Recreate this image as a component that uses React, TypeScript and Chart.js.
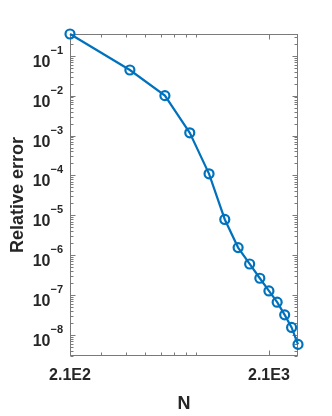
import React, { useEffect, useRef } from "react";
import { Chart, registerables } from "chart.js";

Chart.register(...registerables);

// ---- data ----
const sizesN = [210, 420, 630, 840, 1050, 1260, 1470, 1680, 1890, 2100, 2310, 2520, 2730, 2940];
const relativeError = [
  0.35, 0.0439, 0.01, 0.00117, 1.1e-4, 7.9e-6, 1.56e-6, 6.06e-7, 2.66e-7, 1.28e-7, 6.68e-8, 3.22e-8,
  1.56e-8, 5.86e-9,
];
const xTickValues = [210, 2100];
const xTickLabels = ["2.1E2", "2.1E3"];
const xMinorTickValues = [300, 400, 500, 600, 700, 800, 900];
const yTickValues = [1e-1, 1e-2, 1e-3, 1e-4, 1e-5, 1e-6, 1e-7, 1e-8];
const yTickBase = "10";
const yTickExponents = ["−1", "−2", "−3", "−4", "−5", "−6", "−7", "−8"];
const xRange = [210, 2940];
const yRange = [3e-9, 0.35];

const FONT = "'Liberation Sans', Arial, Helvetica, sans-serif";
const AXIS_COLOR = "#7a7a7a";
const TEXT_COLOR = "#262626";
const LINE_COLOR = "#0072BD";

const boxPlugin = {
  id: "matlabBox",
  beforeDatasetsDraw(chart: any) {
    const { ctx, chartArea: a, scales } = chart;
    const line = (x1: number, y1: number, x2: number, y2: number) => {
      ctx.beginPath();
      ctx.moveTo(x1, y1);
      ctx.lineTo(x2, y2);
      ctx.stroke();
    };
    ctx.save();
    ctx.strokeStyle = AXIS_COLOR;
    ctx.lineWidth = 1;
    const L = Math.round(a.left) + 0.5;
    const R = Math.round(a.right) - 0.5;
    const T = Math.round(a.top) + 0.5;
    const B = Math.round(a.bottom) - 0.5;
    ctx.strokeRect(L, T, R - L, B - T);
    const ys = scales.y;
    for (let d = -10; d <= 0; d++) {
      for (let m = 1; m <= 9; m++) {
        const v = m * Math.pow(10, d);
        if (v < ys.min || v > ys.max) continue;
        const p = Math.round(ys.getPixelForValue(v)) + 0.5;
        const len = m === 1 ? 5 : 3;
        line(L, p, L + len, p);
        line(R, p, R - len, p);
      }
    }
    const xs = scales.x;
    const drawX = (v: number, len: number) => {
      const p = Math.round(xs.getPixelForValue(v)) + 0.5;
      line(p, B, p, B - len);
      line(p, T, p, T + len);
    };
    xTickValues.forEach((v) => drawX(v, 5));
    xMinorTickValues.forEach((v) => drawX(v, 3));

    // y tick labels: 10 with superscript exponent
    ctx.fillStyle = TEXT_COLOR;
    ctx.textBaseline = "alphabetic";
    yTickValues.forEach((v, i) => {
      const p = ys.getPixelForValue(v);
      const right = a.left - 7;
      ctx.font = `bold 11px ${FONT}`;
      ctx.textAlign = "right";
      const ew = ctx.measureText(yTickExponents[i]).width;
      ctx.fillText(yTickExponents[i], right, p - 2);
      ctx.font = `bold 16px ${FONT}`;
      ctx.fillText(yTickBase, right - ew, p + 11);
    });
    ctx.restore();
  },
};

export default function App() {
  const ref = useRef<HTMLCanvasElement | null>(null);
  useEffect(() => {
    if (!ref.current) return;
    const chart = new Chart(ref.current, {
      type: "line",
      data: {
        datasets: [
          {
            data: sizesN.map((n, i) => ({ x: n, y: relativeError[i] })),
            borderColor: LINE_COLOR,
            borderWidth: 2.2,
            pointRadius: 4.5,
            pointBorderWidth: 2.2,
            pointBorderColor: LINE_COLOR,
            pointBackgroundColor: "rgba(0,0,0,0)",
            pointStyle: "circle",
            tension: 0,
            clip: false as any,
          },
        ],
      },
      options: {
        responsive: false,
        animation: false,
        events: [],
        layout: { padding: { top: 34, right: 34, left: 0, bottom: 0 }, autoPadding: false } as any,
        plugins: { legend: { display: false }, tooltip: { enabled: false } },
        scales: {
          x: {
            type: "logarithmic",
            position: "bottom",
            min: xRange[0],
            max: xRange[1],
            grid: { display: false },
            border: { display: false },
            afterBuildTicks: (s: any) => {
              s.ticks = xTickValues.map((v) => ({ value: v }));
            },
            afterFit: (s: any) => {
              s.height = 60;
            },
            ticks: {
              autoSkip: false,
              maxRotation: 0,
              padding: 2,
              color: TEXT_COLOR,
              font: { family: FONT, size: 16, weight: "bold" },
              callback: (v: any) => {
                const i = xTickValues.findIndex((t) => Math.abs(t - Number(v)) < 1e-6 * t);
                return i >= 0 ? xTickLabels[i] : "";
              },
            },
            title: {
              display: true,
              text: "N",
              color: TEXT_COLOR,
              font: { family: FONT, size: 18, weight: "bold" },
              padding: { top: 0, bottom: 1 },
            },
          },
          y: {
            type: "logarithmic",
            position: "left",
            min: yRange[0],
            max: yRange[1],
            grid: { display: false },
            border: { display: false },
            afterBuildTicks: (s: any) => {
              s.ticks = yTickValues.map((v) => ({ value: v }));
            },
            afterFit: (s: any) => {
              s.width = 70;
            },
            ticks: { display: false },
            title: {
              display: true,
              text: "Relative error",
              color: TEXT_COLOR,
              font: { family: FONT, size: 18, weight: "bold" },
              padding: { top: 7, bottom: 0 },
            },
          },
        },
      } as any,
      plugins: [boxPlugin],
    });
    return () => chart.destroy();
  }, []);
  return (
    <div style={{ position: "fixed", left: 0, top: 0, width: 332, height: 416, background: "#fff" }}>
      <canvas ref={ref} width={332} height={416} style={{ width: 332, height: 416, display: "block" }} />
    </div>
  );
}
